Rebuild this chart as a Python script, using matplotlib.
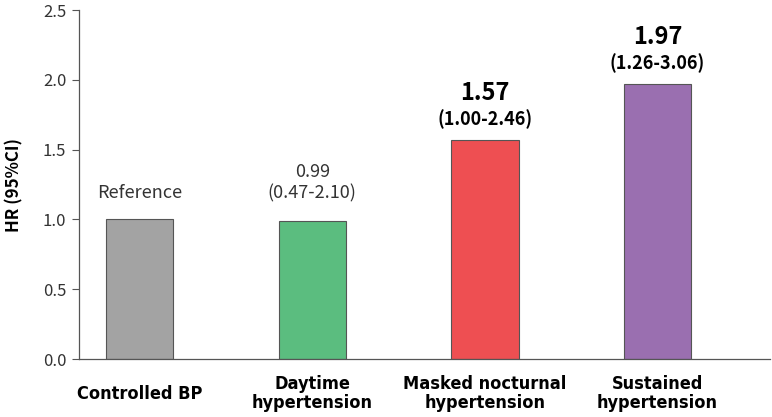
import matplotlib
matplotlib.use("Agg")
import matplotlib.pyplot as plt
from matplotlib import font_manager

groups = ["Controlled BP", "Daytime\nhypertension", "Masked nocturnal\nhypertension", "Sustained\nhypertension"]
hr = [1.00, 0.99, 1.57, 1.97]
hr_text = ["", "0.99", "1.57", "1.97"]
ci_text = ["Reference", "(0.47-2.10)", "(1.00-2.46)", "(1.26-3.06)"]
significant = [False, False, True, True]
colors = ["#a3a3a3", "#5bbd7f", "#ee4f52", "#9a6fb0"]

plt.rcParams['font.family'] = ['Noto Sans CJK JP', 'DejaVu Sans']

# look for a condensed bold face for the category labels
xprop = None
for f in font_manager.fontManager.ttflist:
    narrow = 'Narrow' in f.name or 'Condensed' in f.name or str(f.stretch) in ('condensed', 'semi-condensed', '75', '87')
    if narrow and f.weight in ('bold', 700):
        xprop = font_manager.FontProperties(fname=f.fname, size=13)
        break
if xprop is None:
    xprop = font_manager.FontProperties(family=['Noto Sans CJK JP'], weight='bold', size=12)

fig = plt.figure(figsize=(7.72, 4.17), dpi=100)
ax = fig.add_axes([0.102, 0.139, 0.895, 0.837])

x = list(range(len(hr)))
ax.bar(x, hr, width=0.39, color=colors, edgecolor="#555555", linewidth=0.8)

for i in x:
    if significant[i]:
        ax.annotate(hr_text[i], (i, hr[i]), xytext=(0, 33.5), textcoords="offset points",
                    ha="center", va="center", fontsize=17, fontweight="bold")
        ax.annotate(ci_text[i], (i, hr[i]), xytext=(0, 14.8), textcoords="offset points",
                    ha="center", va="center", fontsize=13, fontweight="bold")
    elif hr_text[i]:
        ax.annotate(hr_text[i], (i, hr[i]), xytext=(0, 35), textcoords="offset points",
                    ha="center", va="center", fontsize=13, color="#333333")
        ax.annotate(ci_text[i], (i, hr[i]), xytext=(0, 19.5), textcoords="offset points",
                    ha="center", va="center", fontsize=13, color="#333333")
    else:
        ax.annotate(ci_text[i], (i, hr[i]), xytext=(0, 19), textcoords="offset points",
                    ha="center", va="center", fontsize=13, color="#333333")

ax.set_xlim(-0.353, 3.65)
ax.set_ylim(0, 2.5)
ax.set_yticks([0, 0.5, 1.0, 1.5, 2.0, 2.5])
ax.set_yticklabels(["0.0", "0.5", "1.0", "1.5", "2.0", "2.5"], fontsize=12, color="#333333")
ax.set_xticks(x)
ax.set_xticklabels(groups, fontproperties=xprop, linespacing=1.1)
for lab in ax.get_xticklabels():
    lab.set_verticalalignment("center")
ax.tick_params(axis="x", length=0, pad=25)
ax.tick_params(axis="y", length=5, color="#555555", pad=4)
ax.set_ylabel("HR (95%CI)", fontsize=12.2, fontweight="bold", labelpad=14)

for s in ["top", "right"]:
    ax.spines[s].set_visible(False)
for s in ["left", "bottom"]:
    ax.spines[s].set_color("#555555")
    ax.spines[s].set_linewidth(0.9)

fig.savefig("out.png", dpi=100, facecolor="white")
